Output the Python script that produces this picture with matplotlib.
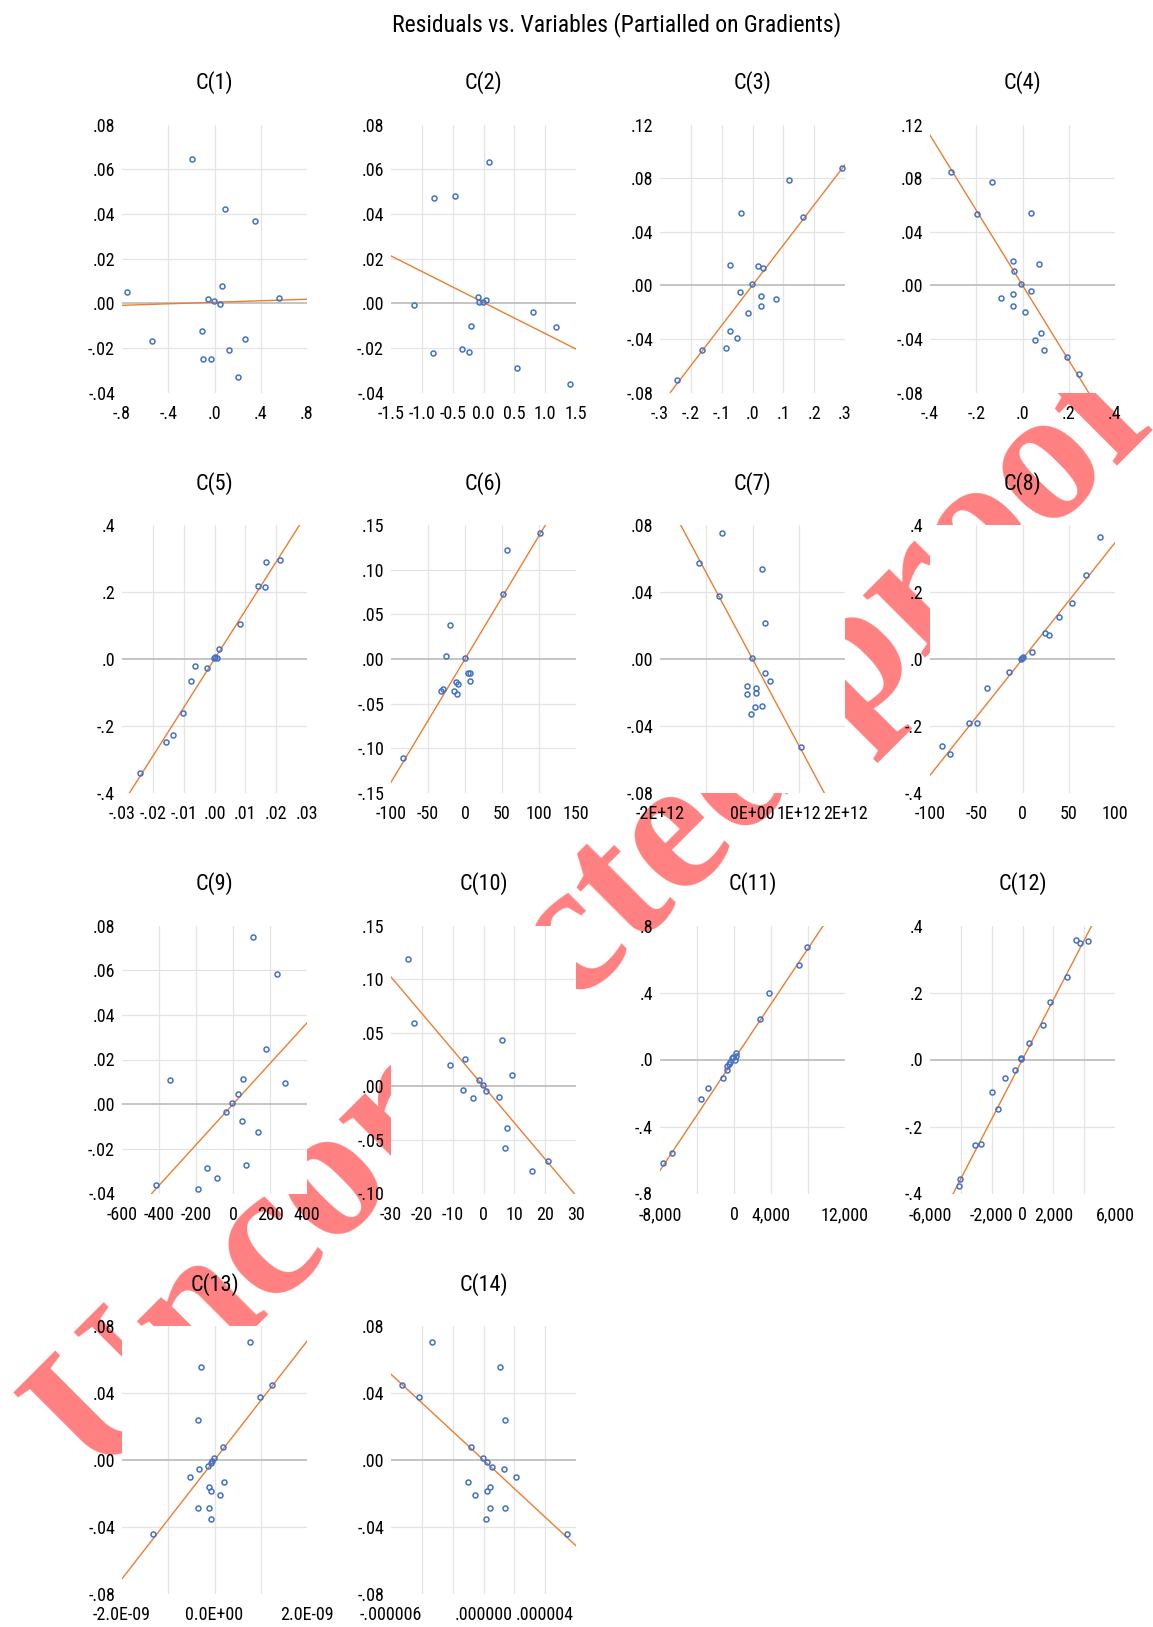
import matplotlib
matplotlib.use("Agg")
import matplotlib.pyplot as plt
from matplotlib import font_manager as fm

# ---------------- fonts ----------------
def pick_font():
    pref = ["Liberation Sans Narrow", "DejaVu Sans Condensed", "Noto Sans", "Noto Sans Condensed",
            "Open Sans", "Open Sans Condensed", "Roboto Condensed", "Roboto", "Lato", "Inter"]
    wmap = {"normal": 400, "regular": 400, "book": 400, "roman": 400, "light": 300,
            "medium": 500, "semibold": 600, "demibold": 600, "bold": 700}
    cands = []
    for f in fm.fontManager.ttflist:
        if f.style != "normal":
            continue
        w = f.weight if isinstance(f.weight, (int, float)) else wmap.get(str(f.weight).lower(), 700)
        st = f.stretch
        cond = ("Narrow" in f.name) or ("Condensed" in f.name) or \
               (st in ("condensed", "extra-condensed", "semi-condensed", "ultra-condensed")) or \
               (isinstance(st, (int, float)) and st < 500)
        if not cond or w < 300 or w > 500:
            continue
        rank = pref.index(f.name) if f.name in pref else 99
        cands.append((abs(w - 400), rank, f))
    if cands:
        cands.sort(key=lambda t: (t[0], t[1]))
        return cands[0][2]
    return None

_f = pick_font()
if _f is not None:
    plt.rcParams["font.family"] = [_f.name, "DejaVu Sans"]
    plt.rcParams["font.weight"] = _f.weight
    plt.rcParams["font.stretch"] = _f.stretch
else:
    plt.rcParams["font.family"] = ["DejaVu Sans"]

# ---------------- data ----------------
titles = ["C(1)", "C(2)", "C(3)", "C(4)", "C(5)", "C(6)", "C(7)",
          "C(8)", "C(9)", "C(10)", "C(11)", "C(12)", "C(13)", "C(14)"]

c1_x = [-0.757, -0.195, 0.094, 0.347, 0.061, -0.057, -0.005, 0.051, 0.560, -0.107, -0.544, 0.264, 0.126, -0.103, -0.034, 0.199]
c1_y = [0.0051, 0.0645, 0.0422, 0.0367, 0.0079, 0.0019, 0.0009, -0.0003, 0.0025, -0.0125, -0.0170, -0.0162, -0.0211, -0.0250, -0.0251, -0.0330]

c2_x = [0.089, -0.810, -0.465, -1.131, -0.089, -0.077, -0.009, 0.040, 0.810, 1.168, -0.200, -0.822, -0.354, -0.243, 0.539, 1.408]
c2_y = [0.0633, 0.0473, 0.0482, -0.0009, 0.0028, 0.0003, 0.0007, 0.0012, -0.0039, -0.0106, -0.0100, -0.0222, -0.0205, -0.0219, -0.0291, -0.0360]

c3_x = [0.289, 0.119, 0.165, -0.038, -0.074, 0.019, 0.034, -0.002, -0.041, 0.026, 0.076, 0.029, -0.016, -0.074, -0.049, -0.087, -0.165, -0.244]
c3_y = [0.0873, 0.0784, 0.0510, 0.0542, 0.0148, 0.0141, 0.0126, 0.0012, -0.0049, -0.0079, -0.0099, -0.0158, -0.0203, -0.0339, -0.0393, -0.0468, -0.0485, -0.0705]

c4_x = [-0.311, -0.130, -0.195, 0.035, -0.041, 0.072, -0.036, -0.005, 0.035, -0.041, -0.091, -0.039, 0.009, 0.082, 0.053, 0.094, 0.193, 0.243]
c4_y = [0.0846, 0.0772, 0.0534, 0.0539, 0.0181, 0.0156, 0.0109, 0.0012, -0.0045, -0.0062, -0.0092, -0.0151, -0.0198, -0.0356, -0.0408, -0.0485, -0.0532, -0.0661]

c5_x = [0.0213, 0.0166, 0.0142, 0.0163, 0.0082, 0.0014, -0.0003, 0.0001, 0.0008, -0.0062, -0.0023, -0.0075, -0.0102, -0.0136, -0.0156, -0.0242]
c5_y = [0.296, 0.289, 0.218, 0.216, 0.104, 0.029, 0.002, 0.005, 0.003, -0.020, -0.028, -0.067, -0.160, -0.227, -0.247, -0.339]

c6_x = [101.6, 57.0, 51.3, -20.5, -25.2, -0.5, 3.6, 6.7, 6.2, -11.8, -9.2, -29.3, -32.3, -15.4, -10.8, -83.7]
c6_y = [0.1407, 0.1215, 0.0733, 0.0378, 0.0030, 0.0011, -0.0152, -0.0152, -0.0241, -0.0263, -0.0281, -0.0333, -0.0359, -0.0356, -0.0389, -0.1111]

c7_x = [-6.59e11, -1.153e12, -7.14e11, 2.04e11, 2.75e11, -1.6e10, 2.67e11, 3.84e11, -1.25e11, -1.18e11, 8.6e10, 7.1e10, 5.5e10, 2.12e11, -3.9e10, 1.043e12]
c7_y = [0.0752, 0.0576, 0.0374, 0.0539, 0.0212, 0.0006, -0.0081, -0.0131, -0.0160, -0.0208, -0.0174, -0.0204, -0.0285, -0.0283, -0.0329, -0.0527]

c8_x = [84.3, 68.2, 53.3, 39.2, 24.7, 28.2, 10.6, -0.8, -2.0, 0.0, -14.9, -38.8, -57.3, -49.4, -87.5, -78.8]
c8_y = [0.3634, 0.2495, 0.1663, 0.1267, 0.0782, 0.0713, 0.0218, 0.003, -0.001, 0.006, -0.0376, -0.0851, -0.1911, -0.1911, -0.2604, -0.2832]

c9_x = [106.8, 238.2, 178.6, -340.9, 55.4, 281.3, 26.7, -4.1, -37.0, 49.3, 135.5, 67.8, -141.7, -86.2, -414.8, -186.9]
c9_y = [0.0748, 0.0584, 0.0245, 0.0110, 0.0114, 0.0097, 0.0046, 0.0006, -0.0037, -0.0077, -0.0123, -0.0271, -0.0288, -0.0329, -0.0360, -0.0382]

c10_x = [-24.6, -22.5, 6.1, -10.9, -6.0, 9.3, -1.4, -0.1, 0.9, -6.7, -3.3, 5.1, 7.7, 7.0, 20.9, 15.8]
c10_y = [0.1186, 0.0590, 0.0435, 0.0202, 0.0258, 0.0102, 0.0059, 0.0012, -0.0040, -0.0031, -0.0112, -0.0102, -0.0391, -0.0578, -0.0696, -0.0789]

c11_x = [7843, 6980, 3804, 2824, 235, 196, 157, -78, -235, -471, -549, -784, -745, -1176, -2824, -3529, -6706, -7725]
c11_y = [0.672, 0.567, 0.396, 0.240, 0.041, 0.022, -0.002, 0.012, 0.010, -0.016, -0.028, -0.039, -0.061, -0.108, -0.173, -0.236, -0.560, -0.619]

c12_x = [3459, 3718, 4235, 2871, 1812, 1318, 424, -94, -94, -494, -1129, -1953, -1600, -3059, -2682, -4024, -4118]
c12_y = [0.3576, 0.3478, 0.3527, 0.2473, 0.1714, 0.1034, 0.0483, 0.0059, 0.0020, -0.0315, -0.0542, -0.0975, -0.1488, -0.2552, -0.2522, -0.3576, -0.3764]

c13_x = [7.76e-10, -2.92e-10, 1.244e-09, 9.82e-10, -3.66e-10, 1.77e-10, -2.1e-11, -6.2e-11, -8.6e-11, -1.44e-10,
         -3.41e-10, -5.30e-10, 2.09e-10, -1.27e-10, -8.6e-11, 1.11e-10, -3.57e-10, -1.19e-10, -7.0e-11, -1.326e-09]
c13_y = [0.0706, 0.0553, 0.0448, 0.0378, 0.0241, 0.0080, 0.0010, -0.0006, -0.0016, -0.0038,
         -0.0054, -0.0103, -0.0129, -0.0159, -0.0183, -0.0207, -0.0287, -0.0287, -0.0352, -0.0444]

c14_x = [-3.362e-6, 1.096e-6, -5.308e-6, -4.200e-6, 1.416e-6, -0.825e-6, -0.012e-6, 0.234e-6, 0.530e-6, 1.342e-6,
         2.081e-6, -0.997e-6, 0.406e-6, 0.234e-6, -0.554e-6, 0.406e-6, 1.416e-6, 0.160e-6, 5.406e-6]
c14_y = [0.0706, 0.0553, 0.0446, 0.0376, 0.0241, 0.0078, 0.0010, -0.0014, -0.0040, -0.0054,
         -0.0103, -0.0133, -0.0159, -0.0183, -0.0207, -0.0287, -0.0287, -0.0352, -0.0444]

xs = [c1_x, c2_x, c3_x, c4_x, c5_x, c6_x, c7_x, c8_x, c9_x, c10_x, c11_x, c12_x, c13_x, c14_x]
ys = [c1_y, c2_y, c3_y, c4_y, c5_y, c6_y, c7_y, c8_y, c9_y, c10_y, c11_y, c12_y, c13_y, c14_y]

# fitted partial-regression lines (slope, intercept)
line_slope = [0.0017, -0.0139, 0.30, -0.28, 14.5, 0.00138, -5.15e-14, 0.00347,
              9.1e-5, -0.0034, 8.28e-5, 8.9e-5, 3.545e7, -8533.0]
line_intercept = [0.0004, 0.0003, 0.0, 0.0, 0.0, 0.0, 0.0, 0.0,
                  0.0, 0.0, 0.0, 0.0, 0.0, 0.0]

x_ticks = [
    [-0.8, -0.4, 0.0, 0.4, 0.8],
    [-1.5, -1.0, -0.5, 0.0, 0.5, 1.0, 1.5],
    [-0.3, -0.2, -0.1, 0.0, 0.1, 0.2, 0.3],
    [-0.4, -0.2, 0.0, 0.2, 0.4],
    [-0.03, -0.02, -0.01, 0.0, 0.01, 0.02, 0.03],
    [-100, -50, 0, 50, 100, 150],
    [-2e12, -1e12, 0, 1e12, 2e12],
    [-100, -50, 0, 50, 100],
    [-600, -400, -200, 0, 200, 400],
    [-30, -20, -10, 0, 10, 20, 30],
    [-8000, -4000, 0, 4000, 8000, 12000],
    [-6000, -4000, -2000, 0, 2000, 4000, 6000],
    [-2e-9, -1e-9, 0, 1e-9, 2e-9],
    [-6e-6, -4e-6, -2e-6, 0, 2e-6, 4e-6, 6e-6],
]
x_labels = [
    ["-.8", "-.4", ".0", ".4", ".8"],
    ["-1.5", "-1.0", "-0.5", "0.0", "0.5", "1.0", "1.5"],
    ["-.3", "-.2", "-.1", ".0", ".1", ".2", ".3"],
    ["-.4", "-.2", ".0", ".2", ".4"],
    ["-.03", "-.02", "-.01", ".00", ".01", ".02", ".03"],
    ["-100", "-50", "0", "50", "100", "150"],
    ["-2E+12", "", "0E+00", "1E+12", "2E+12"],
    ["-100", "-50", "0", "50", "100"],
    ["-600", "-400", "-200", "0", "200", "400"],
    ["-30", "-20", "-10", "0", "10", "20", "30"],
    ["-8,000", "", "0", "4,000", "", "12,000"],
    ["-6,000", "", "-2,000", "0", "2,000", "", "6,000"],
    ["-2.0E-09", "", "0.0E+00", "", "2.0E-09"],
    ["-.000006", "", "", ".000000", "", ".000004", ""],
]

y_ticks = [
    [-0.04, -0.02, 0.0, 0.02, 0.04, 0.06, 0.08],
    [-0.04, -0.02, 0.0, 0.02, 0.04, 0.06, 0.08],
    [-0.08, -0.04, 0.0, 0.04, 0.08, 0.12],
    [-0.08, -0.04, 0.0, 0.04, 0.08, 0.12],
    [-0.4, -0.2, 0.0, 0.2, 0.4],
    [-0.15, -0.10, -0.05, 0.0, 0.05, 0.10, 0.15],
    [-0.08, -0.04, 0.0, 0.04, 0.08],
    [-0.4, -0.2, 0.0, 0.2, 0.4],
    [-0.04, -0.02, 0.0, 0.02, 0.04, 0.06, 0.08],
    [-0.10, -0.05, 0.0, 0.05, 0.10, 0.15],
    [-0.8, -0.4, 0.0, 0.4, 0.8],
    [-0.4, -0.2, 0.0, 0.2, 0.4],
    [-0.08, -0.04, 0.0, 0.04, 0.08],
    [-0.08, -0.04, 0.0, 0.04, 0.08],
]
y_labels = [
    ["-.04", "-.02", ".00", ".02", ".04", ".06", ".08"],
    ["-.04", "-.02", ".00", ".02", ".04", ".06", ".08"],
    ["-.08", "-.04", ".00", ".04", ".08", ".12"],
    ["-.08", "-.04", ".00", ".04", ".08", ".12"],
    ["-.4", "-.2", ".0", ".2", ".4"],
    ["-.15", "-.10", "-.05", ".00", ".05", ".10", ".15"],
    ["-.08", "-.04", ".00", ".04", ".08"],
    ["-.4", "-.2", ".0", ".2", ".4"],
    ["-.04", "-.02", ".00", ".02", ".04", ".06", ".08"],
    ["-.10", "-.05", ".00", ".05", ".10", ".15"],
    ["-.8", "-.4", ".0", ".4", ".8"],
    ["-.4", "-.2", ".0", ".2", ".4"],
    ["-.08", "-.04", ".00", ".04", ".08"],
    ["-.08", "-.04", ".00", ".04", ".08"],
]

main_title = "Residuals vs. Variables (Partialled on Gradients)"
watermark = "Uncorrected proof"

# ---------------- layout / style ----------------
W, H = 1153, 1627
fig = plt.figure(figsize=(W / 100, H / 100), dpi=100)
fig.patch.set_facecolor("white")

col_left = [122, 391, 660, 930]
col_w = 185
row_top = [124.5, 525, 925.5, 1326]
row_h = 268

BLUE = "#4472C4"
ORANGE = "#ED7D31"
GRID = "#E4E4E4"
ZERO = "#BFBFBF"

fig.text(617 / W, 1 - 25 / H, main_title, ha="center", va="center", fontsize=17, color="black")

for i in range(14):
    r, c = divmod(i, 4)
    l, t = col_left[c], row_top[r]
    ax = fig.add_axes([l / W, 1 - (t + row_h) / H, col_w / W, row_h / H])
    ax.set_facecolor("white")
    xt, yt = x_ticks[i], y_ticks[i]
    ax.set_xlim(xt[0], xt[-1])
    ax.set_ylim(yt[0], yt[-1])
    for v in xt[1:-1]:
        ax.axvline(v, color=GRID, lw=0.9, zorder=1)
    for v in yt[1:-1]:
        if v == 0:
            ax.axhline(v, color=ZERO, lw=1.3, zorder=1.5)
        else:
            ax.axhline(v, color=GRID, lw=0.9, zorder=1)
    ax.axline((0, line_intercept[i]), slope=line_slope[i], color=ORANGE, lw=1.0, zorder=2)
    ax.plot(xs[i], ys[i], linestyle="none", marker="o", ms=3.6, mew=1.1,
            mfc="none", mec=BLUE, zorder=3)
    ax.set_xticks(xt)
    ax.set_xticklabels(x_labels[i])
    ax.set_yticks(yt)
    ax.set_yticklabels(y_labels[i])
    ax.tick_params(axis="both", length=0, labelsize=13, colors="black")
    ax.tick_params(axis="x", pad=9)
    ax.tick_params(axis="y", pad=5)
    for s in ax.spines.values():
        s.set_visible(False)
    ax.text(0.5, 1 + 41.5 / row_h, titles[i], transform=ax.transAxes,
            ha="center", va="center", fontsize=16, color="black")

fig.text(596 / W, 1 - 921 / H, watermark, ha="center", va="center",
         rotation=45, rotation_mode="anchor", fontsize=137, fontweight="bold", fontstretch="normal",
         family=["Liberation Serif", "DejaVu Serif"], color="#FF8080", zorder=-1)

fig.savefig("out.png", dpi=100, facecolor="white")
